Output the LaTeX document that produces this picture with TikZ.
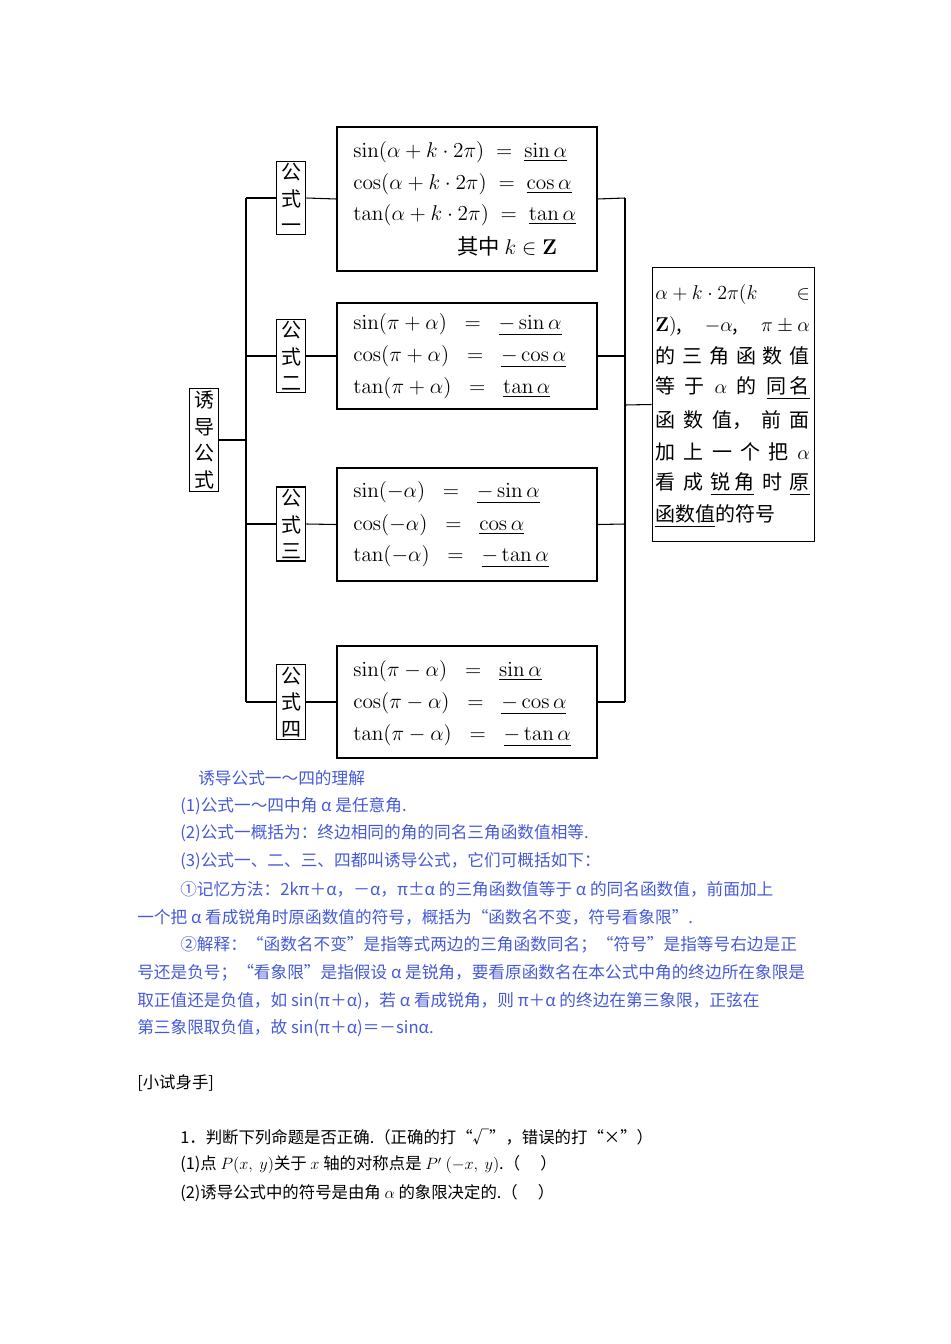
\documentclass[tikz,border=0pt]{standalone}
\usepackage{fix-cm}
\usepackage[no-math]{fontspec}
\setmainfont{Noto Sans CJK SC}
\usepackage{amsmath,amssymb}
\definecolor{bl}{RGB}{70,90,215}
\tikzset{
 bx/.style={draw,line width=0.9pt},
 ln/.style={line width=0.8pt},
 vt/.style={bx,inner sep=1.5pt,align=center,font=\fontsize{15}{20}\selectfont},
 fm/.style={anchor=west,inner sep=0pt,font=\fontsize{16}{18}\selectfont},
 rt/.style={anchor=west,inner sep=0pt,font=\fontsize{15}{17}\selectfont},
 bt/.style={anchor=west,inner sep=0pt,text=bl,font=\fontsize{12.5}{14}\selectfont},
 kt/.style={anchor=west,inner sep=0pt,font=\fontsize{12.3}{14}\selectfont},
}
\newcommand{\rl}[1]{\makebox[116pt][l]{#1}}
\begin{document}
\begin{tikzpicture}[x=0.75pt,y=-0.75pt]
\useasboundingbox (0,0) rectangle (950,1344);
% left title
\node[vt,minimum width=22pt] (t) at (204,440) {诱\\导\\公\\式};
\coordinate (L) at (246,440);
\coordinate (LT) at (246,198);
\coordinate (LB) at (246,702);
\draw[ln] (t.east) -- (L);
\draw[ln] (LT) -- (LB);
% formula boxes
\foreach \n/\y/\lab/\ya/\yb in {1/198/一/127/271,2/356/二/303/409,3/524/三/468/581,4/702/四/646/758}{
  \node[vt,minimum width=22pt] (g\n) at (291,\y) {公\\式\\\lab};
  \node[bx,minimum width=195pt,minimum height={(\yb-\ya)*0.75pt},inner sep=0pt] (f\n) at (467,{(\ya+\yb)/2}) {};
  \draw[ln] (246,\y) -- (g\n.west);
  \draw[ln] (g\n.east) -- (f\n.west);
  \draw[ln] (f\n.east) -- (625,\y);
}
\draw[ln] (625,198) -- (625,702);
\node[bx,minimum width=122pt,minimum height=205pt,inner sep=0pt] (r) at (733.5,404.5) {};
\draw[ln] (625,405) -- (r.west);
% box 1
\node[fm] (a1) at (353,152) {$\sin(\alpha+k\cdot 2\pi)\;=\;\underline{\sin\alpha}$};
\node[fm] (a2) at (353,184) {$\cos(\alpha+k\cdot 2\pi)\;=\;\underline{\cos\alpha}$};
\node[fm] (a3) at (353,215) {$\tan(\alpha+k\cdot 2\pi)\;=\;\underline{\tan\alpha}$};
\node[fm] (a4) at (457,246) {其中 $k\in\mathbf{Z}$};
% box 2
\node[fm] (b1) at (353,325) {$\sin(\pi+\alpha)\;\;=\;\;\underline{-\sin\alpha}$};
\node[fm] (b2) at (353,357) {$\cos(\pi+\alpha)\;\;=\;\;\underline{-\cos\alpha}$};
\node[fm] (b3) at (353,388) {$\tan(\pi+\alpha)\;\;=\;\;\underline{\tan\alpha}$};
% box 3
\node[fm] (c1) at (353,493) {$\sin(-\alpha)\;\;=\;\;\underline{-\sin\alpha}$};
\node[fm] (c2) at (353,525) {$\cos(-\alpha)\;\;=\;\;\underline{\cos\alpha}$};
\node[fm] (c3) at (353,557) {$\tan(-\alpha)\;\;=\;\;\underline{-\tan\alpha}$};
% box 4
\node[fm] (d1) at (353,671) {$\sin(\pi-\alpha)\;\;=\;\;\underline{\sin\alpha}$};
\node[fm] (d2) at (353,704) {$\cos(\pi-\alpha)\;\;=\;\;\underline{-\cos\alpha}$};
\node[fm] (d3) at (353,736) {$\tan(\pi-\alpha)\;\;=\;\;\underline{-\tan\alpha}$};
% right box text
\node[rt] (r1) at (655,295) {\rl{$\alpha+k\cdot2\pi(k$\hfill$\in$}};
\node[rt] (r2) at (655,326) {\rl{$\mathbf{Z})$,\hfill$-\alpha$,\hfill$\pi\pm\alpha$}};
\node[rt] (r3) at (655,356) {\rl{的\hfill 三\hfill 角\hfill 函\hfill 数\hfill 值}};
\node[rt] (r4) at (655,388) {\rl{等\hfill 于\hfill $\alpha$\hfill 的\hfill \underline{同\,名}}};
\node[rt] (r5) at (655,420) {\rl{函\hfill 数\hfill 值，\hfill 前\hfill 面}};
\node[rt] (r6) at (655,452) {\rl{加\hfill 上\hfill 一\hfill 个\hfill 把\hfill $\alpha$}};
\node[rt] (r7) at (655,484) {\rl{看\hfill 成\hfill \underline{锐\,角}\hfill 时\hfill \underline{原}}};
\node[rt] (r8) at (655,516) {\underline{函数值}的符号};
% blue text
\node[bt] (p0) at (198,778) {诱导公式一～四的理解};
\node[bt] (p1) at (180,806) {(1)公式一～四中角 α 是任意角.};
\node[bt] (p2) at (180,833) {(2)公式一概括为：终边相同的角的同名三角函数值相等.};
\node[bt] (p3) at (180,861) {(3)公式一、二、三、四都叫诱导公式，它们可概括如下：};
\node[bt] (p4) at (180,889) {①记忆方法：2kπ＋α，－α，π±α 的三角函数值等于 α 的同名函数值，前面加上};
\node[bt] (p5) at (137,917) {一个把 α 看成锐角时原函数值的符号，概括为“函数名不变，符号看象限”.};
\node[bt] (p6) at (180,945) {②解释：“函数名不变”是指等式两边的三角函数同名；“符号”是指等号右边是正};
\node[bt] (p7) at (137,973) {号还是负号；“看象限”是指假设 α 是锐角，要看原函数名在本公式中角的终边所在象限是};
\node[bt] (p8) at (137,1001) {取正值还是负值，如 \textit{sin}(π＋α)，若 α 看成锐角，则 π＋α 的终边在第三象限，正弦在};
\node[bt] (p9) at (137,1028) {第三象限取负值，故 \textit{sin}(π＋α)＝－\textit{sin}α.};
% black
\node[kt] (q0) at (137,1083) {[小试身手]};
\node[kt] (q1) at (180,1137) {1．判断下列命题是否正确.（正确的打“√”，错误的打“×”）};
\node[kt] (q2) at (180,1165) {(1)点 $P(x,\ y)$关于 $x$ 轴的对称点是 $P'$ $(-x,\ y)$.（\quad\ ）};
\node[kt] (q3) at (180,1193) {(2)诱导公式中的符号是由角 $\alpha$ 的象限决定的.（\quad\ ）};
\end{tikzpicture}
\end{document}
